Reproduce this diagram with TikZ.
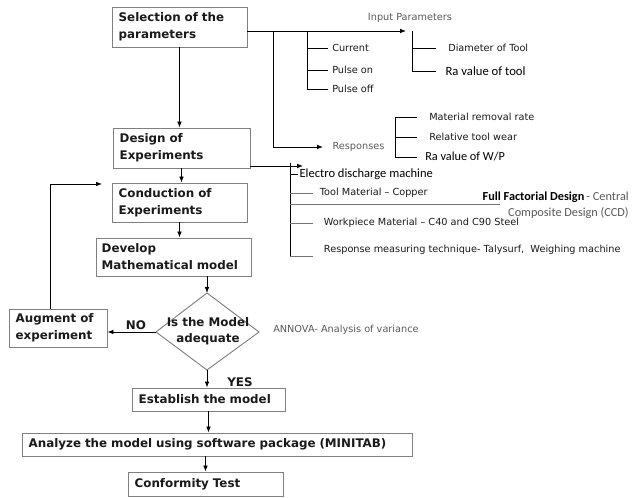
\documentclass[tikz,border=0pt]{standalone}
\usepackage{fontspec}
\setmainfont{DejaVu Sans}
\newfontfamily\calfont{Carlito}
\usetikzlibrary{arrows.meta}
\definecolor{boxgray}{HTML}{808080}
\definecolor{lblgray}{HTML}{5A5A5A}
\definecolor{txt}{HTML}{1A1A1A}
\begin{document}
\begin{tikzpicture}[x=0.75pt,y=-0.75pt,
  boxfont/.style={font=\fontsize{8.9}{12.75}\selectfont\bfseries, text=txt},
  box/.style={boxfont, draw=boxgray, line width=0.7pt, inner xsep=5pt, inner ysep=0pt, align=left, anchor=center},
  lbl/.style={inner ysep=1pt, inner xsep=3pt, anchor=west, font=\fontsize{7.3}{9}\selectfont, text=txt},
  glbl/.style={lbl, text=lblgray},
  clbl/.style={inner ysep=1pt, inner xsep=3pt, anchor=west, font=\calfont\fontsize{9.5}{12}\selectfont, text=black},
  conn/.style={line width=0.6pt, black},
  gconn/.style={line width=0.6pt, black!55},
  arr/.style={conn, -{Latex[length=4.5pt,width=3.5pt]}},
]
\useasboundingbox (0,0) rectangle (637,498);
\fill[white] (0,0) rectangle (637,498);

% main boxes
\node[box, text width=91.25pt, minimum height=30pt] (sel) at (179.5,27) {Selection of the\\parameters};
\node[box, text width=92.75pt, minimum height=30pt] (doe) at (181.5,148) {Design of\\Experiments};
\node[box, text width=91.25pt, minimum height=29.25pt] (cond) at (179.5,202.5) {Conduction of\\Experiments};
\node[box, text width=108.5pt, inner xsep=4pt, minimum height=28.5pt] (dev) at (174,257) {Develop\\Mathematical model};
\node[box, text width=63.5pt, minimum height=28.5pt] (aug) at (58,328) {Augment of\\experiment};
\node[box, text width=104.75pt, minimum height=17.25pt] (est) at (208.5,399.5) {Establish the model};
\node[box, text width=282.5pt, minimum height=17.25pt] (ana) at (217,444.5) {Analyze the model using software package (MINITAB)};
\node[box, text width=106.25pt, minimum height=18pt] (conf) at (205.5,484) {Conformity Test};

% decision diamond
\coordinate (dt) at (207,293);
\coordinate (dr) at (259,332);
\coordinate (db) at (207,370);
\coordinate (dl) at (156,332);
\draw[draw=boxgray, line width=0.7pt, fill=white] (dt) -- (dr) -- (db) -- (dl) -- cycle;
\node[boxfont, align=center, inner sep=0pt, font=\fontsize{8.9}{12}\selectfont\bfseries] (dq) at (208,331) {Is the Model\\adequate};

% main flow
\draw[arr] (sel.south) -- (sel.south |- doe.north);
\draw[arr] (doe.south) -- (doe.south |- cond.north);
\draw[arr] (cond.south) -- (cond.south |- dev.north);
\draw[arr] (dt |- dev.south) -- (dt);
\draw[arr] (dl) -- (dl -| aug.east);
\draw[arr] (db) -- (db |- est.north);
\draw[arr] (est.south) -- (est.south |- ana.north);
\draw[arr] (conf.north |- ana.south) -- (conf.north);
\coordinate (fb1) at (50,184);
\coordinate (fb2) at (102,184);
\draw[arr] (fb1 |- aug.north) -- (fb1) -- (fb2);
\node[boxfont, inner sep=0pt] (no) at (136,325) {NO};
\node[boxfont, inner sep=0pt] (yes) at (240,382) {YES};

% input parameters
\coordinate (ipt) at (406,31);
\draw[arr] (ipt -| sel.east) -- (ipt);
\node[glbl, anchor=center] (ipl) at (410,18) {Input Parameters};
\coordinate (ct) at (307,31);
\node[lbl] (cur) at (328,48) {Current};
\node[lbl] (pon) at (328,70) {Pulse on};
\node[lbl] (poff) at (328,89) {Pulse off};
\draw[conn] (ct) |- (poff.west);
\draw[conn] (ct |- cur.west) -- (cur.west);
\draw[conn] (ct |- pon.west) -- (pon.west);
\coordinate (ibt) at (412,31);
\node[lbl, inner xsep=9pt] (dia) at (436,48) {Diameter of Tool};
\node[clbl, inner xsep=7pt] (rat) at (436,71) {Ra value of tool};
\draw[conn] (ibt) |- (rat.west);
\draw[conn] (ibt |- dia.west) -- (dia.west);

% responses
\coordinate (rt) at (273,31);
\node[glbl, inner xsep=7pt] (resp) at (323,147) {Responses};
\draw[arr] (rt) |- (resp.west);
\coordinate (rbt) at (395,117);
\node[lbl, inner xsep=9pt] (mrr) at (417,117) {Material removal rate};
\node[lbl, inner xsep=9pt] (rtw) at (417,137) {Relative tool wear};
\node[clbl, inner xsep=6pt, font=\calfont\fontsize{9.2}{12}\selectfont] (raw) at (417,157) {Ra value of W/P};
\draw[conn] (mrr.west) -- (rbt) |- (raw.west);
\draw[conn] (rbt |- rtw.west) -- (rtw.west);

% experiment conditions
\coordinate (ea) at (303,166);
\draw[arr] (ea -| doe.east) -- (ea);
\coordinate (et) at (290,163);
\node[clbl, inner xsep=1pt, font=\calfont\fontsize{9.4}{12}\selectfont] (edm) at (298,174) {Electro discharge machine};
\node[lbl, inner xsep=5pt] (tool) at (313,193) {Tool Material – Copper};
\node[lbl, inner xsep=8pt] (wp) at (313,223) {Workpiece Material – C40 and C90 Steel};
\node[lbl, inner xsep=8pt] (rm) at (313,250) {Response measuring technique- Talysurf,\ \ Weighing machine};
\coordinate (rmend) at ([yshift=-5pt]rm.west);
\coordinate (ffend) at (500,204);
\draw[conn] (et) -- (et |- rmend);
\draw[conn] (et |- edm.west) -- (edm.west);
\draw[gconn] (et |- tool.west) -- (tool.west);
\draw[gconn] (et |- wp.west) -- (wp.west);
\draw[gconn] (et |- rmend) -- (rmend);
\draw[gconn] (et |- ffend) -- (ffend);
\node[clbl, anchor=east, font=\calfont\fontsize{9.2}{11}\selectfont] (ff1) at (633,197) {\bfseries Full Factorial Design\,\mdseries\color{lblgray}- Central};
\node[clbl, anchor=east, font=\calfont\fontsize{9.2}{11}\selectfont, text=lblgray] (ff2) at (633,213) {Composite Design (CCD)};

% annova
\node[glbl] (an) at (269,330) {ANNOVA- Analysis of variance};
\end{tikzpicture}
\end{document}
